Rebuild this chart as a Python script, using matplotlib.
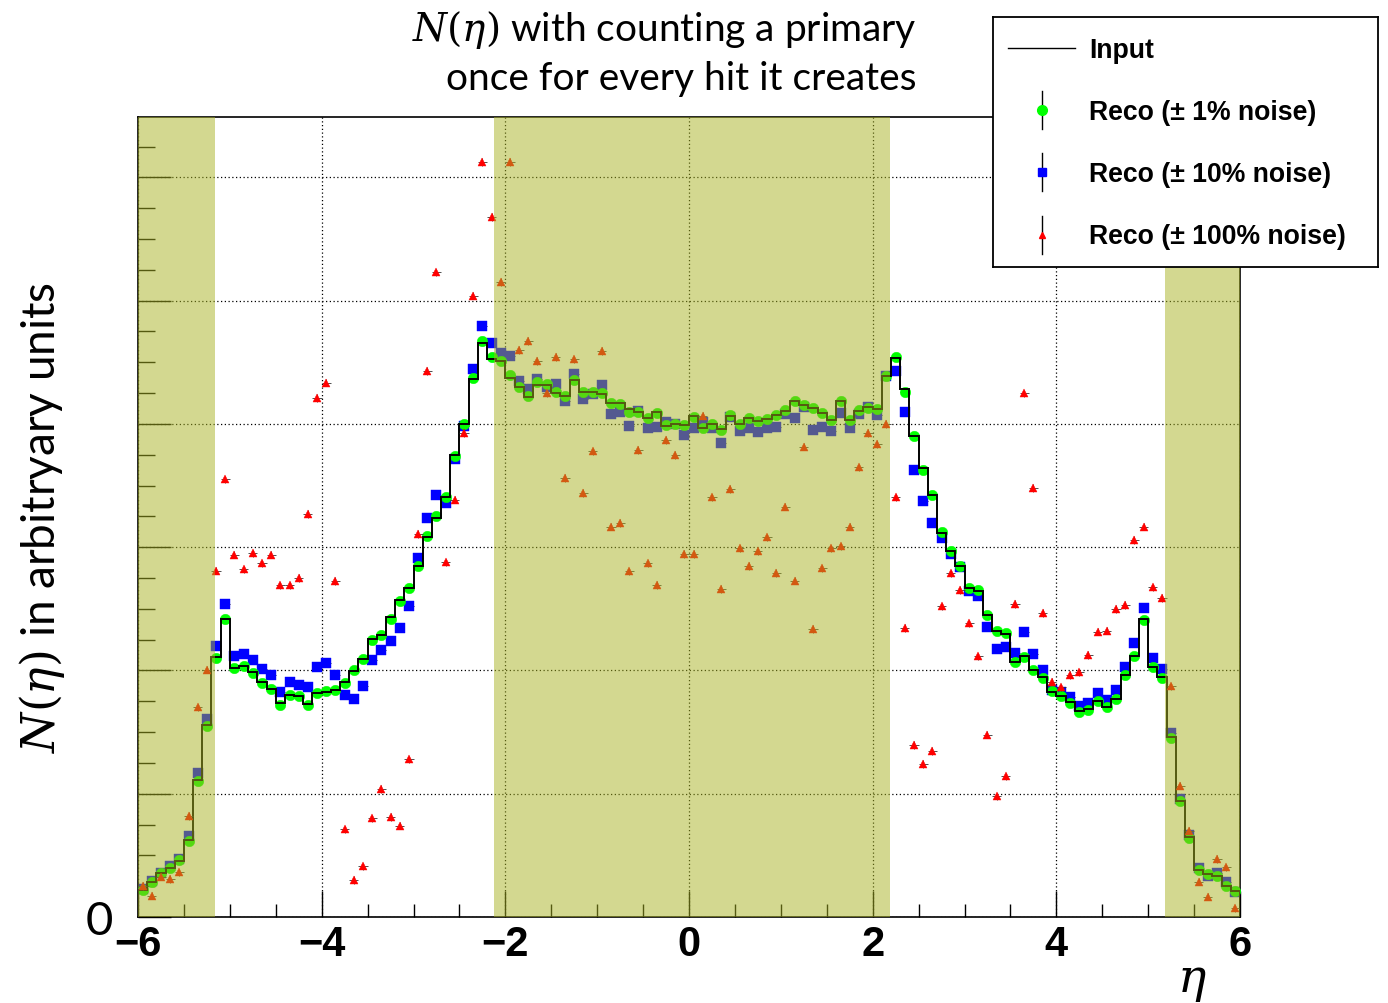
import numpy as np
import matplotlib
matplotlib.use("Agg")
import matplotlib.pyplot as plt

plt.rcParams['mathtext.fontset'] = 'dejavuserif'

# ---------------- data ----------------
eta_edges = np.round(np.linspace(-6.0, 6.0, 121), 3)
eta_centers = 0.5 * (eta_edges[:-1] + eta_edges[1:])

input_vals = [
    0.22, 0.28, 0.357, 0.40, 0.457, 0.624, 1.11, 1.56, 2.106, 2.417,
    2.017, 2.033, 1.984, 1.91, 1.85, 1.733, 1.80, 1.79, 1.727, 1.817,
    1.827, 1.84, 1.903, 1.998, 2.09, 2.255, 2.287, 2.43, 2.574, 2.671,
    2.849, 3.079, 3.236, 3.409, 3.747, 3.998, 4.363, 4.653, 4.525, 4.507,
    4.371, 4.296, 4.22, 4.317, 4.317, 4.255, 4.228, 4.355, 4.263, 4.263,
    4.242, 4.169, 4.169, 4.12, 4.098, 4.052, 4.093, 3.98, 3.998, 3.99,
    4.066, 3.971, 3.998, 3.958, 4.066, 3.998, 4.052, 4.02, 4.044, 4.074,
    4.106, 4.188, 4.152, 4.128, 4.085, 4.034, 4.188, 4.034, 4.106, 4.134,
    4.12, 4.39, 4.534, 4.282, 3.904, 3.639, 3.423, 3.114, 2.971, 2.849,
    2.666, 2.647, 2.452, 2.322, 2.295, 2.066, 2.114, 2.006, 1.944, 1.827,
    1.795, 1.746, 1.668, 1.687, 1.754, 1.70, 1.768, 1.965, 2.12, 2.417,
    2.025, 1.944, 1.457, 0.943, 0.646, 0.384, 0.349, 0.335, 0.254, 0.213,
]

reco_1pct = [
    0.22, 0.28, 0.36, 0.40, 0.46, 0.62, 1.10, 1.55, 2.10, 2.42,
    2.02, 2.04, 1.98, 1.90, 1.85, 1.72, 1.80, 1.79, 1.72, 1.82,
    1.83, 1.84, 1.90, 2.00, 2.09, 2.25, 2.29, 2.42, 2.56, 2.67,
    2.85, 3.09, 3.25, 3.41, 3.74, 4.00, 4.37, 4.67, 4.54, 4.51,
    4.40, 4.30, 4.23, 4.34, 4.32, 4.26, 4.23, 4.36, 4.26, 4.26,
    4.25, 4.17, 4.16, 4.10, 4.10, 4.05, 4.09, 3.99, 4.00, 3.99,
    4.06, 3.97, 4.00, 3.95, 4.07, 4.00, 4.05, 4.02, 4.04, 4.07,
    4.11, 4.19, 4.15, 4.13, 4.09, 4.03, 4.19, 4.03, 4.11, 4.13,
    4.12, 4.39, 4.54, 4.26, 3.90, 3.63, 3.42, 3.12, 2.97, 2.85,
    2.67, 2.65, 2.45, 2.32, 2.30, 2.07, 2.11, 2.00, 1.94, 1.83,
    1.79, 1.74, 1.66, 1.68, 1.75, 1.70, 1.77, 1.96, 2.12, 2.41,
    2.03, 1.94, 1.45, 0.94, 0.64, 0.38, 0.35, 0.33, 0.25, 0.21,
]

reco_10pct = [
    0.23, 0.29, 0.36, 0.41, 0.47, 0.66, 1.165, 1.61, 2.198, 2.538,
    2.12, 2.133, 2.087, 2.011, 1.965, 1.822, 1.903, 1.88, 1.868, 2.025,
    2.057, 1.965, 1.803, 1.768, 1.876, 2.087, 2.165, 2.24, 2.341, 2.525,
    2.909, 3.236, 3.425, 3.358, 3.715, 3.985, 4.444, 4.796, 4.653, 4.574,
    4.552, 4.35, 4.282, 4.363, 4.30, 4.323, 4.188, 4.404, 4.20, 4.242,
    4.315, 4.08, 4.093, 3.985, 4.106, 3.963, 3.977, 4.012, 4.0, 3.909,
    3.971, 4.017, 3.963, 3.842, 4.06, 3.939, 3.963, 3.931, 3.963, 3.977,
    4.079, 4.052, 4.134, 3.952, 3.977, 3.939, 4.085, 3.963, 4.079, 4.134,
    4.071, 4.39, 4.43, 4.093, 3.625, 3.371, 3.195, 3.071, 2.947, 2.836,
    2.641, 2.606, 2.349, 2.174, 2.187, 2.141, 2.314, 2.133, 2.006, 1.84,
    1.827, 1.782, 1.709, 1.733, 1.814, 1.762, 1.844, 2.03, 2.22, 2.506,
    2.098, 2.011, 1.49, 0.96, 0.665, 0.395, 0.33, 0.355, 0.282, 0.20,
]

reco_100pct = [
    0.25, 0.173, 0.327, 0.308, 0.362, 0.82, 1.70, 2.006, 2.81, 3.55,
    2.94, 2.82, 2.95, 2.87, 2.94, 2.69, 2.69, 2.75, 3.27, 4.21,
    4.336, 2.725, 0.71, 0.30, 0.41, 0.80, 1.04, 0.81, 0.74, 1.28,
    3.106, 4.43, 5.23, 2.877, 3.385, 3.925, 5.04, 6.126, 5.68, 5.15,
    6.126, 4.601, 4.674, 4.512, 4.247, 4.544, 3.56, 4.525, 3.439, 3.777,
    4.593, 3.166, 3.195, 2.804, 3.79, 2.868, 2.693, 3.869, 3.747, 2.944,
    2.944, 4.066, 3.404, 2.66, 3.471, 2.99, 2.849, 2.966, 3.079, 2.79,
    3.33, 2.728, 3.815, 2.336, 2.828, 2.99, 3.006, 3.166, 3.647, 3.925,
    3.836, 3.998, 3.404, 2.344, 1.395, 1.24, 1.346, 2.52, 2.787, 2.652,
    2.382, 2.114, 1.48, 0.98, 1.14, 2.538, 4.247, 3.48, 2.466, 1.909,
    1.863, 1.963, 1.984, 2.125, 2.314, 2.322, 2.498, 2.53, 3.058, 3.166,
    2.674, 2.587, 1.871, 1.065, 0.70, 0.286, 0.165, 0.47, 0.403, 0.07,
]

shaded_regions = [(-6.0, -5.16), (-2.12, 2.19), (5.18, 6.0)]

x_tick_vals = [-6, -4, -2, 0, 2, 4, 6]
x_tick_labels = ['\u22126', '\u22124', '\u22122', '0', '2', '4', '6']

legend_labels = ['Input', 'Reco (\u00b1 1% noise)', 'Reco (\u00b1 10% noise)',
                 'Reco (\u00b1 100% noise)']

# ---------------- figure ----------------
W, H = 1388, 1004
fig = plt.figure(figsize=(W / 100, H / 100), dpi=100)
fig.patch.set_facecolor('white')

ax = fig.add_axes([138 / W, (H - 918) / H, 1102 / W, 800 / H])
ax.set_xlim(-6, 6)
ax.set_ylim(0, 6.49)

GREEN = (0.0, 1.0, 0.0)
BLUE = (0.0, 0.0, 1.0)
RED = (1.0, 0.0, 0.0)

ax.errorbar(eta_centers, reco_10pct, xerr=0.05, fmt='s', color=BLUE, ms=6.6,
            mec=BLUE, mew=0.3, ecolor='#333333', elinewidth=0.7, capsize=0,
            zorder=2)
ax.errorbar(eta_centers, reco_1pct, xerr=0.05, fmt='o', color=GREEN, ms=7.6,
            mec=GREEN, mew=0.3, ecolor='#333333', elinewidth=0.7, capsize=0,
            zorder=3)
ax.stairs(input_vals, eta_edges, color='black', lw=1.4, zorder=4)
ax.errorbar(eta_centers, reco_100pct, xerr=0.05, yerr=0.03, fmt='^',
            color=RED, ms=6.0, mec=RED, mew=0.3, ecolor='#333333',
            elinewidth=0.6, capsize=0, zorder=5)

for a, b in shaded_regions:
    ax.axvspan(a, b, color=(168 / 255, 179 / 255, 35 / 255), alpha=0.5,
               lw=0, zorder=10)

# ticks & grid
ax.set_xticks(x_tick_vals)
ax.set_xticklabels(x_tick_labels, fontfamily=['Liberation Sans', 'DejaVu Sans'],
                   fontweight='bold', fontsize=30)
ax.set_xticks(np.arange(-6, 6.01, 0.5), minor=True)
ax.set_yticks(range(7))
ax.set_yticklabels(['0', '', '', '', '', '', ''],
                   fontfamily=['Lato', 'DejaVu Sans'], fontsize=34)
ax.set_yticks(np.arange(0, 6.49, 0.25), minor=True)
ax.tick_params(axis='x', which='major', direction='in', length=19, width=1,
               pad=5)
ax.tick_params(axis='x', which='minor', direction='in', length=9.5, width=1)
ax.tick_params(axis='y', which='major', direction='in', length=24, width=1,
               pad=18)
ax.tick_params(axis='y', which='minor', direction='in', length=12, width=1)
ax.grid(True, which='major', color='black', linestyle=(0, (1, 2)), lw=0.9)
for s in ax.spines.values():
    s.set_linewidth(1.2)

# labels
fig.text(917 / W, 1 - 41 / H, r'$N(\eta)$ with counting a primary',
         ha='right', va='baseline', fontsize=28, fontfamily=['Lato', 'DejaVu Sans'])
fig.text(917 / W, 1 - 90 / H, 'once for every hit it creates',
         ha='right', va='baseline', fontsize=28, fontfamily=['Lato', 'DejaVu Sans'])
fig.text(42 / W, 1 - 517 / H, r'$N(\eta)$ in arbitryary units', rotation=90,
         ha='center', va='center', fontsize=33,
         fontfamily=['Lato', 'DejaVu Sans'])
fig.text(1192 / W, 1 - 982 / H, r'$\eta$', ha='center', va='center',
         fontsize=34)

# legend (drawn as a box in pixel coordinates)
lx0, ly0, lx1, ly1 = 993, 18, 1378, 268
lax = fig.add_axes([lx0 / W, 1 - ly1 / H, (lx1 - lx0) / W, (ly1 - ly0) / H],
                   zorder=20)
lax.set_xlim(lx0, lx1)
lax.set_ylim(ly1, ly0)
lax.set_xticks([])
lax.set_yticks([])
lax.set_facecolor('white')
for s in lax.spines.values():
    s.set_linewidth(1.3)
    s.set_color('black')
rows_y = [49, 111, 173, 236]
lax.plot([1008, 1075], [rows_y[0], rows_y[0]], color='black', lw=1.0)
styles = [('o', GREEN, 7.0), ('s', BLUE, 6.0), ('^', RED, 5.0)]
for y, (m, c, ms) in zip(rows_y[1:], styles):
    lax.plot([1042, 1042], [y - 19, y + 19], color='black', lw=1.0)
    lax.plot([1042], [y], marker=m, color=c, ms=ms, mec=c, ls='none')
for y, lab in zip(rows_y, legend_labels):
    lax.text(1089, y + 1.5, lab, ha='left', va='center', fontsize=19.2,
             fontweight='bold', fontfamily=['Liberation Sans', 'DejaVu Sans'])

fig.savefig('out.png', dpi=100, facecolor='white')
